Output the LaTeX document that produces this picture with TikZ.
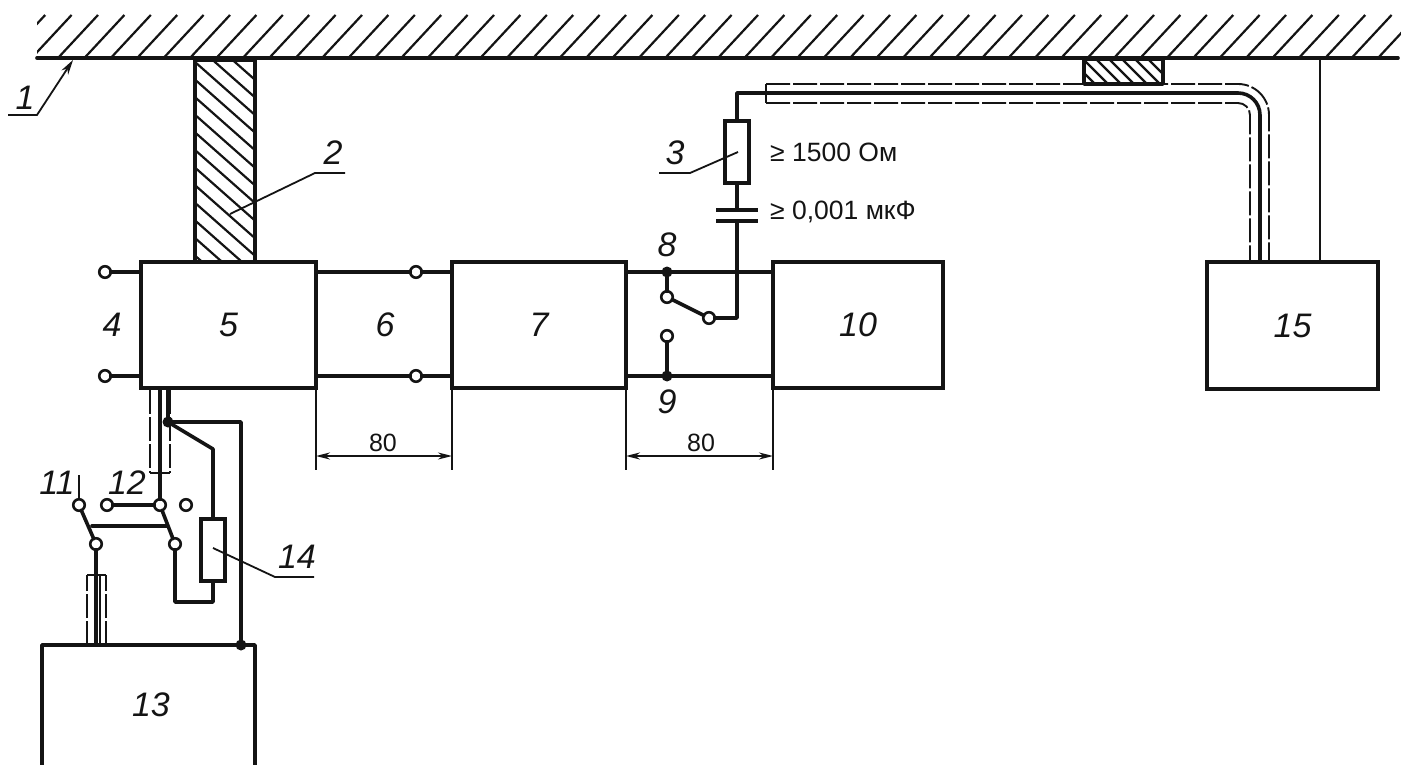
\documentclass[tikz,border=0pt]{standalone}
\usepackage{fontspec}
\setmainfont{Liberation Sans}
\usetikzlibrary{arrows.meta}
\definecolor{ink}{gray}{0.08}
\tikzset{
  wire/.style={line width=3.6pt,draw=ink,line cap=round,line join=round},
  thin wire/.style={line width=2pt,draw=ink},
  shield/.style={line width=1.9pt,draw=ink,dash pattern=on 24pt off 3pt},
  hatchline/.style={line width=2.2pt,draw=ink},
  leader/.style={line width=1.8pt,draw=ink},
  boxn/.style={draw=ink,line width=3.6pt,fill=white,inner sep=0pt,outer sep=0pt,font=\fontsize{34}{34}\selectfont\itshape,text=ink},
  term/.style={circle,draw=ink,line width=2.6pt,fill=white,minimum size=11.5pt,inner sep=0pt,outer sep=0pt},
  jdot/.style={circle,fill=ink,minimum size=11pt,inner sep=0pt,outer sep=0pt},
  res/.style={draw=ink,line width=3.4pt,fill=white,minimum width=24pt,minimum height=62pt,inner sep=0pt,outer sep=1.5pt},
  num/.style={font=\fontsize{34}{34}\selectfont\itshape,text=ink,inner sep=0pt},
  val/.style={font=\fontsize{26.5}{27}\selectfont,text=ink,inner sep=0pt,anchor=west},
  dimv/.style={font=\fontsize{25}{25}\selectfont,text=ink,inner sep=0pt},
  dimn/.style={line width=1.8pt,draw=ink,{Stealth[length=14pt,width=7pt]}-{Stealth[length=14pt,width=7pt]}},
}
\begin{document}
\begin{tikzpicture}[x=1pt,y=-1pt]
\useasboundingbox (0,0) rectangle (1401,765);
\fill[white] (0,0) rectangle (1401,765);
% wall hatching
\begin{scope}
  \clip (37,15) rectangle (1401,58);
  \foreach \k in {-2,...,50}{
    \draw[hatchline] ({58+26.4*\k},58) -- ({98+26.4*\k},15);
  }
\end{scope}
\coordinate (wallL) at (37,58);
\coordinate (wallR) at (1398,58);
\draw[wire] (wallL) -- (wallR);
% post 2
\begin{scope}
  \clip (195,60) rectangle (255,262);
  \foreach \k in {-5,...,14}{
    \draw[hatchline] (195,{62+17.6*\k}) -- (255,{115+17.6*\k});
  }
\end{scope}
\draw[wire] (195,60) rectangle (255,262);
% small support
\begin{scope}
  \clip (1084,59) rectangle (1163,84);
  \foreach \k in {-3,...,7}{
    \draw[hatchline] ({1070+13*\k},59) -- ({1095+13*\k},84);
  }
\end{scope}
\draw[wire] (1084,59) rectangle (1163,84);
% blocks
\node[boxn,minimum width=175pt,minimum height=126pt] (b5) at (228.5,325) {5};
\node[boxn,minimum width=174pt,minimum height=126pt] (b7) at (539,325) {7};
\node[boxn,minimum width=170pt,minimum height=126pt] (b10) at (858,325) {10};
\node[boxn,minimum width=171pt,minimum height=127pt] (b15) at (1292.5,325.5) {15};
\coordinate (b13tl) at (42,645);
\coordinate (b13tr) at (255,645);
\draw[wire,line cap=butt] (42,768) -- (b13tl) -- (b13tr) -- (255,768);
\node[num] (n13) at (151,705) {13};
% terminals and main wires
\node[term] (t4a) at (105,272) {};
\node[term] (t4b) at (105,376) {};
\node[term] (t6a) at (416,272) {};
\node[term] (t6b) at (416,376) {};
\draw[wire] (t4a) -- (t4a -| b5.west);
\draw[wire] (t4b) -- (t4b -| b5.west);
\draw[wire] (t6a -| b5.east) -- (t6a);
\draw[wire] (t6b -| b5.east) -- (t6b);
\draw[wire] (t6a) -- (t6a -| b7.west);
\draw[wire] (t6b) -- (t6b -| b7.west);
\node[jdot] (d8) at (667,272) {};
\node[jdot] (d9) at (667,376) {};
\draw[wire] (d8 -| b7.east) -- (d8 -| b10.west);
\draw[wire] (d9 -| b7.east) -- (d9 -| b10.west);
\node[term] (s8) at (667,297) {};
\node[term] (s9) at (667,336) {};
\node[term] (sw) at (709,318) {};
\draw[wire] (d8) -- (s8);
\draw[wire] (d9) -- (s9);
\draw[wire] (s8) -- (sw);
% filter branch
\node[res] (r3) at (737,152) {};
\coordinate (capT) at (737,210);
\coordinate (capB) at (737,221);
\coordinate (cabL) at (766,93);
\draw[wire,line cap=butt] (716,210) -- (758,210);
\draw[wire,line cap=butt] (716,221) -- (758,221);
\draw[wire] (sw) -- (737,318) -- (capB);
\draw[wire] (capT) -- (r3.south);
\draw[wire] (r3.north) -- (737,93) -- (cabL);
% cable to 15
\coordinate (cabIn) at (1260,262);
\draw[wire] (cabL) -- (1238,93) arc[start angle=90,end angle=0,radius=22pt] -- (cabIn);
\draw[shield] (766,84) -- (1238,84) arc[start angle=90,end angle=0,radius=31pt] -- (1269,262);
\draw[shield] (766,103) -- (1238,103) arc[start angle=90,end angle=0,radius=12pt] -- (1250,262);
\draw[thin wire] (766,84) -- (766,103);
\coordinate (g15) at (1320,58);
\draw[thin wire] (g15) -- (g15 |- b15.north);
% lower circuit
\node[term] (a) at (79,505) {};
\node[term] (b) at (96,544) {};
\node[term] (c) at (107,505) {};
\node[term] (d) at (160,505) {};
\node[term] (e) at (186,505) {};
\node[term] (f) at (175,544) {};
\node[jdot] (j1) at (168,422) {};
\node[jdot] (j2) at (241,645) {};
\node[res,minimum width=24pt,minimum height=62pt] (r14) at (213,550) {};
\coordinate (st11) at (79,475);
\coordinate (br1) at (92,526);
\coordinate (br2) at (167,526);
\draw[line width=2.2pt,draw=ink] (st11) -- (a);
\draw[wire] (a) -- (b);
\draw[wire] (c) -- (d);
\draw[wire] (d) -- (f);
\draw[wire] (br1) -- (br2);
\draw[wire] (d) -- (d |- b5.south);
\draw[wire] (j1) -- (j1 |- b5.south);
\draw[wire] (j1) -- (241,422) -- (j2);
\draw[wire] (j1) -- (213,449) -- (r14.north);
\draw[wire] (r14.south) -- (213,602) -- (175,602) -- (f);
\draw[wire] (b) -- (96,645);
\draw[line width=2.2pt,draw=ink] (100,575) -- (100,645);
\draw[shield] (150,390) -- (150,473);
\draw[shield] (170,390) -- (170,473);
\draw[thin wire] (150,473) -- (170,473);
\draw[shield] (87,645) -- (87,575);
\draw[shield] (106,645) -- (106,575);
\draw[thin wire] (87,575) -- (106,575);
% dimensions
\coordinate (e1) at (316,470);
\coordinate (e2) at (452,470);
\coordinate (e3) at (626,470);
\coordinate (e4) at (773,470);
\draw[thin wire] (b5.south east) -- (e1);
\draw[thin wire] (b7.south west) -- (e2);
\draw[thin wire] (b7.south east) -- (e3);
\draw[thin wire] (b10.south west) -- (e4);
\draw[dimn] (316,456) -- (452,456);
\draw[dimn] (626,456) -- (773,456);
\node[dimv] (d1) at (383,443) {80};
\node[dimv] (d2) at (701,443) {80};
% labels
\node[num] (n4) at (112,325) {4};
\node[num] (n6) at (385,325) {6};
\node[num] (n8) at (667,245) {8};
\node[num] (n9) at (667,402) {9};
\node[num] (n11) at (57,483) {11};
\node[num] (n12) at (127,483) {12};
\node[val] (v1) at (770,152) {≥ 1500 Ом};
\node[val] (v2) at (770,212) {≥ 0,001 мкФ};
% leaders
\node[num] (n1) at (25,98) {1};
\coordinate (l1a) at (8,115);
\coordinate (l1b) at (37,115);
\coordinate (l1c) at (73,60);
\draw[leader,-{Stealth[length=15pt,width=8pt]}] (l1a) -- (l1b) -- (l1c);
\node[num] (n2) at (333,153) {2};
\coordinate (l2a) at (345,173);
\coordinate (l2b) at (315,173);
\coordinate (l2c) at (230,214);
\draw[leader] (l2a) -- (l2b) -- (l2c);
\node[num] (n3) at (675,153) {3};
\coordinate (l3a) at (659,173);
\coordinate (l3b) at (690,173);
\coordinate (l3c) at (738,152);
\draw[leader] (l3a) -- (l3b) -- (l3c);
\node[num] (n14) at (297,557) {14};
\coordinate (l4a) at (314,577);
\coordinate (l4b) at (275,577);
\coordinate (l4c) at (213,548);
\draw[leader] (l4a) -- (l4b) -- (l4c);
\end{tikzpicture}
\end{document}
